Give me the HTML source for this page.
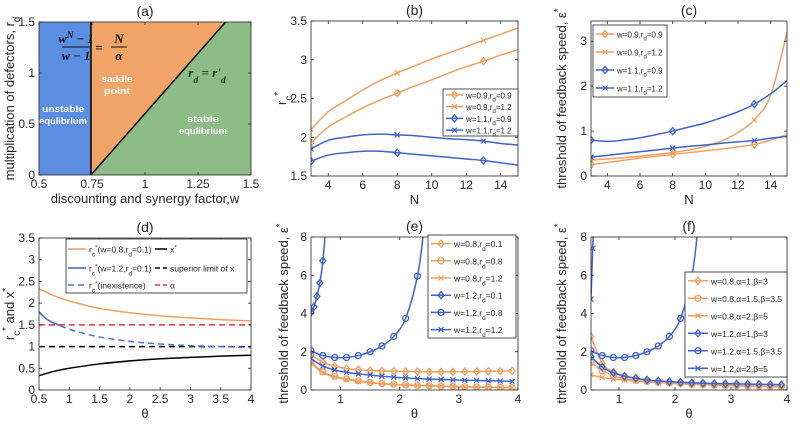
<!DOCTYPE html>
<html><head><meta charset="utf-8"><style>
body{margin:0;background:#fff}
svg text{font-family:"Liberation Sans",sans-serif;fill:#262626}
</style></head><body>
<svg id="fig" width="800" height="425" viewBox="0 0 800 425" xmlns="http://www.w3.org/2000/svg"></svg>
<script>
// ---------- data ----------
const OR='#EFA060', BL='#3F63C9';
const bN=[3,4,5,6,7,8,9,10,11,12,13,14,15];
const b1=[1.93,2.13,2.26,2.38,2.48,2.57,2.66,2.74,2.83,2.91,2.98,3.06,3.13];
const b2=[2.10,2.33,2.47,2.61,2.73,2.83,2.92,3.01,3.09,3.17,3.25,3.33,3.41];
const b3=[1.69,1.77,1.80,1.82,1.82,1.80,1.78,1.76,1.74,1.72,1.70,1.67,1.64];
const b4=[1.85,1.96,2.00,2.03,2.04,2.03,2.02,2.00,1.98,1.97,1.95,1.92,1.90];
const c1=[0.25,0.30,0.35,0.40,0.44,0.48,0.52,0.56,0.60,0.65,0.70,0.80,0.92];
const c2=[0.35,0.38,0.41,0.44,0.48,0.52,0.58,0.66,0.78,0.97,1.25,1.80,3.20];
const c3=[0.80,0.77,0.80,0.85,0.92,1.00,1.09,1.18,1.30,1.43,1.60,1.83,2.12];
const c4=[0.42,0.46,0.50,0.54,0.58,0.62,0.66,0.69,0.73,0.76,0.79,0.84,0.88];
const dT=[0.5,0.75,1,1.5,2,2.5,3,3.5,4];
const dOr=[2.33,2.17,2.05,1.88,1.78,1.71,1.66,1.62,1.59];
const dX=[0.33,0.43,0.50,0.60,0.67,0.72,0.75,0.78,0.80];
const dBT=[0.5,0.6,0.7,0.85];
const dBsolid=[1.80,1.66,1.57,1.48];
const dBdT=[0.85,1,1.25,1.5,2,2.5,3,3.5,4];
const dBdash=[1.48,1.40,1.30,1.22,1.12,1.06,1.02,1.00,0.98];
const dSup=1, dAlpha=1.5;
const gT=[0.5,0.7,0.9,1.1,1.3,1.5,1.7,1.9,2.1,2.3,2.5,2.7,2.9,3.1,3.3,3.5,3.7,3.9];
const eOd=[1.85,1.45,1.25,1.12,1.06,1.02,1.0,0.98,0.97,0.96,0.95,0.95,0.95,0.96,0.97,0.98,0.99,1.0];
const eOc=[1.45,0.95,0.72,0.58,0.48,0.40,0.34,0.30,0.27,0.24,0.22,0.20,0.19,0.17,0.16,0.15,0.14,0.13];
const eOx=[1.40,0.90,0.68,0.55,0.45,0.38,0.33,0.29,0.26,0.23,0.21,0.19,0.18,0.17,0.15,0.14,0.13,0.12];
const eBx=[1.65,1.25,1.05,0.92,0.84,0.78,0.72,0.67,0.63,0.60,0.57,0.55,0.53,0.51,0.50,0.48,0.47,0.45];
const eBdT=[0.5,0.55,0.6,0.65,0.7,0.75,0.78];
const eBd=[4.05,4.35,4.9,5.6,6.75,8.5,10];
const cirT=[0.5,0.7,0.9,1.1,1.3,1.5,1.7,1.9,2.1,2.3,2.4,2.45];
const cirV=[2.05,1.8,1.7,1.7,1.8,2.0,2.3,2.8,3.75,5.95,8.2,10];
const fOd=[2.8,1.4,0.95,0.74,0.6,0.5,0.43,0.38,0.34,0.31,0.28,0.26,0.24,0.22,0.21,0.2,0.19,0.18];
const fOc=[1.45,1.0,0.75,0.6,0.5,0.45,0.40,0.36,0.33,0.30,0.28,0.26,0.24,0.22,0.21,0.20,0.18,0.17];
const fOx=[0.8,0.65,0.58,0.52,0.47,0.43,0.39,0.36,0.33,0.30,0.28,0.26,0.24,0.22,0.21,0.20,0.19,0.18];
const fBd=[1.75,1.2,0.9,0.72,0.62,0.53,0.48,0.44,0.41,0.38,0.36,0.34,0.33,0.32,0.31,0.30,0.29,0.28];
const fBxT=[0.5,0.53,0.56];
const fBx=[4.75,7.4,10];
const aVline=0.745, aDiag=[[0.745,0],[1.38,1.5]];

// ---------- helpers ----------
const NS='http://www.w3.org/2000/svg';
const svg=document.getElementById('fig');
function el(tag,attrs,parent){const e=document.createElementNS(NS,tag);for(const k in attrs)e.setAttribute(k,attrs[k]);(parent||svg).appendChild(e);return e;}
function rich(t,s,parent){
  const parts=s.split(/(_\{[^}]*\}|\^\{[^}]*\})/);
  for(const p of parts){if(!p)continue;
    if(p[0]==='_'){const ts=el('tspan',{'baseline-shift':'sub','font-size':'0.75em'},t);ts.textContent=p.slice(2,-1);}
    else if(p[0]==='^'){const ts=el('tspan',{'baseline-shift':'super','font-size':'0.75em'},t);ts.textContent=p.slice(2,-1);}
    else{const ts=el('tspan',{},t);ts.textContent=p;}}
}
function smooth(pts){let d='M'+pts[0][0]+','+pts[0][1];
  for(let i=0;i<pts.length-1;i++){const p0=pts[i-1]||pts[i],p1=pts[i],p2=pts[i+1],p3=pts[i+2]||p2;
    const c1=[p1[0]+(p2[0]-p0[0])/6,p1[1]+(p2[1]-p0[1])/6],c2=[p2[0]-(p3[0]-p1[0])/6,p2[1]-(p3[1]-p1[1])/6];
    d+=` C${c1[0]},${c1[1]} ${c2[0]},${c2[1]} ${p2[0]},${p2[1]}`;}return d;}
function marker(g,type,x,y,col){
  if(type==='d')el('path',{d:`M${x},${y-3.5}L${x+3},${y}L${x},${y+3.5}L${x-3},${y}Z`,fill:'none',stroke:col,'stroke-width':1.3},g);
  else if(type==='o')el('circle',{cx:x,cy:y,r:3,fill:'none',stroke:col,'stroke-width':1.3},g);
  else if(type==='x')el('path',{d:`M${x-2.5},${y-2.5}L${x+2.5},${y+2.5}M${x-2.5},${y+2.5}L${x+2.5},${y-2.5}`,stroke:col,'stroke-width':1.2},g);
}
let clipId=0;
function panel(o){
  const g=el('g',{});
  
  
  o.sx=v=>o.x0+(v-o.xmin)/(o.xmax-o.xmin)*(o.x1-o.x0);
  o.sy=v=>o.y1-(v-o.ymin)/(o.ymax-o.ymin)*(o.y1-o.y0);
  const id='c'+(clipId++);
  const cp=el('clipPath',{id:id},g);el('rect',{x:o.x0,y:o.y0,width:o.x1-o.x0,height:o.y1-o.y0},cp);
  o.bg=el('g',{},g);
  o.plot=el('g',{'clip-path':`url(#${id})`},g);
  o.g=g;return o;
}
function finishAxes(o){
  const g=o.g;
  const ax=el('g',{},g);
  
  
  el('rect',{x:o.x0,y:o.y0,width:o.x1-o.x0,height:o.y1-o.y0,fill:'none',stroke:'#262626','stroke-width':0.8},ax);
  o.xticks.forEach((v,i)=>{const x=o.sx(v);
    el('line',{x1:x,x2:x,y1:o.y1,y2:o.y1-3,stroke:'#262626','stroke-width':0.8},ax);
    el('line',{x1:x,x2:x,y1:o.y0,y2:o.y0+3,stroke:'#262626','stroke-width':0.8},ax);
    const t=el('text',{x:x,y:o.y1+13,'text-anchor':'middle','font-size':12},ax);t.textContent=o.xlab[i];
    });
  o.yticks.forEach((v,i)=>{const y=o.sy(v);
    el('line',{x1:o.x0,x2:o.x0+3,y1:y,y2:y,stroke:'#262626','stroke-width':0.8},ax);
    el('line',{x1:o.x1,x2:o.x1-3,y1:y,y2:y,stroke:'#262626','stroke-width':0.8},ax);
    const t=el('text',{x:o.x0-4,y:y+4,'text-anchor':'end','font-size':12},ax);t.textContent=o.ylab[i];
    });
  const tt=el('text',{x:(o.x0+o.x1)/2,y:o.y0-6,'text-anchor':'middle','font-size':14},g);tt.textContent=o.title;
  
  const xt=el('text',{x:(o.x0+o.x1)/2,y:o.y1+28,'text-anchor':'middle','font-size':13},g);rich(xt,o.xtitle);
  
  const cy=(o.y0+o.y1)/2;
  const yt=el('text',{x:o.ytx,y:cy,'text-anchor':'middle','font-size':13,transform:`rotate(-90 ${o.ytx} ${cy})`},g);rich(yt,o.ytitle);
  
}
function series(o,xs,ys,col,mk,name,dash,mkEvery){
  const g=el('g',{},o.plot);
  
  
  const pts=xs.map((x,i)=>[o.sx(x),o.sy(ys[i])]);
  const a={d:smooth(pts),fill:'none',stroke:col,'stroke-width':1.5};if(dash)a['stroke-dasharray']=dash;
  el('path',a,g);
  if(mk)pts.forEach((p,i)=>{if(!mkEvery||mkEvery.includes(xs[i]))marker(g,mk,p[0],p[1],col);});
}
function legend(x,y,w,h,items,rowH,fs){
  const g=el('g',{});
  
  
  el('rect',{x:x,y:y,width:w,height:h,fill:'#fff',stroke:'#262626','stroke-width':0.8},g);
  items.forEach((it,i)=>{
    const e=el('g',{},g);
    
    
    const lx=x+(it.cx||3), ly=(it.cy!==undefined?it.cy:y+rowH*(i+0.5));
    const a={x1:lx,x2:lx+(it.len||20),y1:ly,y2:ly,stroke:it.c,'stroke-width':1.5};if(it.dash)a['stroke-dasharray']=it.dash;
    el('line',a,e);
    if(it.m)marker(e,it.m,lx+(it.len||20)/2,ly,it.c);
    const t=el('text',{x:lx+(it.len||20)+3,y:ly+3.5,'font-size':fs},e);rich(t,it.t);
  });
}

// ---------- panel (a) ----------
const A=panel({name:'panel-a',x0:39,x1:251,y0:22,y1:175,xmin:0.5,xmax:1.5,ymin:0,ymax:1.5,
  xticks:[0.5,0.75,1,1.25,1.5],xlab:['0.5','0.75','1','1.25','1.5'],yticks:[0,0.5,1,1.5],ylab:['0','0.5','1','1.5'],
  title:'(a)',xtitle:'discounting and synergy factor,w',ytitle:'multiplication of defectors, r_{d}',ytx:14});
{const vx=A.sx(aVline),p0=[A.sx(aDiag[0][0]),A.sy(aDiag[0][1])],p1=[A.sx(aDiag[1][0]),A.sy(aDiag[1][1])];
 const r1=el('rect',{x:A.x0,y:A.y0,width:vx-A.x0,height:A.y1-A.y0,fill:'#5B8DE0'},A.bg);
 const r2=el('path',{d:`M${vx},${A.y0}L${p1[0]},${p1[1]}L${p0[0]},${p0[1]}L${vx},${A.y1}Z`,fill:'#F2A468'},A.bg);
 const r3=el('path',{d:`M${p0[0]},${p0[1]}L${p1[0]},${p1[1]}L${A.x1},${A.y0}L${A.x1},${A.y1}Z`,fill:'#8DBC86'},A.bg);
 el('line',{x1:vx,x2:vx,y1:A.y0,y2:A.y1,stroke:'#000','stroke-width':1.5},A.plot);
 el('line',{x1:p0[0],y1:p0[1],x2:p1[0],y2:p1[1],stroke:'#000','stroke-width':1.5},A.plot);
 const lab=(x,y,s,w)=>{const t=el('text',{x:x,y:y,'text-anchor':'middle','font-size':9.5,'font-weight':'bold',style:'fill:#fff',textLength:w,lengthAdjust:'spacingAndGlyphs'},A.g);t.textContent=s;};
 lab(63,112,'unstable',42);lab(63,124,'equlibrium',48);lab(117,82,'saddle',31);lab(117,94,'point',26);lab(203,122,'stable',32);lab(203,134,'equlibrium',48);
 const sf='font-family:"Liberation Serif",serif;font-style:italic;font-weight:bold;fill:#111';
 let t=el('text',{x:76,y:43,'text-anchor':'middle','font-size':12.5,style:sf},A.g);rich(t,'w^{N} − 1');
 el('line',{x1:62,x2:91,y1:47,y2:47,stroke:'#111','stroke-width':1},A.g);
 t=el('text',{x:76,y:60,'text-anchor':'middle','font-size':12.5,style:sf},A.g);t.textContent='w − 1';
 t=el('text',{x:99,y:52,'text-anchor':'middle','font-size':13,style:sf},A.g);t.textContent='=';
 t=el('text',{x:119,y:43,'text-anchor':'middle','font-size':13,style:sf},A.g);t.textContent='N';
 el('line',{x1:111,x2:127,y1:47,y2:47,stroke:'#111','stroke-width':1},A.g);
 t=el('text',{x:119,y:60,'text-anchor':'middle','font-size':13,style:sf},A.g);t.textContent='α';
 t=el('text',{x:207,y:77,'text-anchor':'middle','font-size':13,style:sf.replace('#111','#0d3d12')},A.g);rich(t,"r_{d} = r'_{d}");
}
finishAxes(A);

// ---------- panel (b) ----------
const B=panel({name:'panel-b',x0:311,x1:518,y0:21,y1:176,xmin:3,xmax:15,ymin:1.5,ymax:3.5,
  xticks:[4,6,8,10,12,14],xlab:['4','6','8','10','12','14'],yticks:[1.5,2,2.5,3,3.5],ylab:['1.5','2','2.5','3','3.5'],
  title:'(b)',xtitle:'N',ytitle:'r_{c}^{*}',ytx:286});
series(B,bN,b1,OR,'d','series-w09-rd09',null,[3,8,13]);
series(B,bN,b2,OR,'x','series-w09-rd12',null,[3,8,13]);
series(B,bN,b3,BL,'d','series-w11-rd09',null,[3,8,13]);
series(B,bN,b4,BL,'x','series-w11-rd12',null,[3,8,13]);
finishAxes(B);
legend(443,89,75,47,[{t:'w=0.9,r_{d}=0.9',c:OR,m:'d',len:17},{t:'w=0.9,r_{d}=1.2',c:OR,m:'x',len:17},{t:'w=1.1,r_{d}=0.9',c:BL,m:'d',len:17},{t:'w=1.1,r_{d}=1.2',c:BL,m:'x',len:17}],11.75,8);

// ---------- panel (c) ----------
const C=panel({name:'panel-c',x0:591,x1:787,y0:21,y1:176,xmin:3,xmax:15,ymin:0,ymax:3.45,
  xticks:[4,6,8,10,12,14],xlab:['4','6','8','10','12','14'],yticks:[0,1,2,3],ylab:['0','1','2','3'],
  title:'(c)',xtitle:'N',ytitle:'threshold of feedback speed, ε^{*}',ytx:566});
series(C,bN,c1,OR,'d','series-w09-rd09',null,[3,8,13]);
series(C,bN,c2,OR,'x','series-w09-rd12',null,[3,8,13]);
series(C,bN,c3,BL,'d','series-w11-rd09',null,[3,8,13]);
series(C,bN,c4,BL,'x','series-w11-rd12',null,[3,8,13]);
finishAxes(C);
legend(593,25,74,72,[{t:'w=0.9,r_{d}=0.9',c:OR,m:'d',len:18},{t:'w=0.9,r_{d}=1.2',c:OR,m:'x',len:18},{t:'w=1.1,r_{d}=0.9',c:BL,m:'d',len:18},{t:'w=1.1,r_{d}=1.2',c:BL,m:'x',len:18}],18,8);

// ---------- panel (d) ----------
const D=panel({name:'panel-d',x0:39,x1:251,y0:238,y1:390,xmin:0.5,xmax:4,ymin:0,ymax:3.5,
  xticks:[0.5,1,1.5,2,2.5,3,3.5,4],xlab:['0.5','1','1.5','2','2.5','3','3.5','4'],
  yticks:[0,0.5,1,1.5,2,2.5,3,3.5],ylab:['0','0.5','1','1.5','2','2.5','3','3.5'],
  title:'(d)',xtitle:'θ',ytitle:'r_{c}^{*} and x^{*}',ytx:14});
series(D,[0.5,4],[dSup,dSup],'#000',null,'superior-limit-line','6,4');
series(D,[0.5,4],[dAlpha,dAlpha],'#E8303A',null,'alpha-line','6,4');
series(D,dT,dOr,OR,null,'rc-w08');
series(D,dBT,dBsolid,BL,null,'rc-w12');
series(D,dBdT,dBdash,'#4A72D0',null,'rc-inexistence','6,4');
series(D,dT,dX,'#000',null,'x-star');
finishAxes(D);
legend(66,239,181,54,[
 {t:'r_{c}^{*}(w=0.8,r_{d}=0.1)',c:OR,cx:2,cy:249,len:18},
 {t:'r_{c}^{*}(w=1.2,r_{d}=0.1)',c:BL,cx:2,cy:268,len:18},
 {t:'r_{c}^{*}(inexistence)',c:'#4A72D0',dash:'6,4',cx:2,cy:285,len:18},
 {t:'x^{*}',c:'#000',cx:89,cy:249,len:12},
 {t:'superior limit of x',c:'#000',dash:'5,3',cx:89,cy:268,len:12},
 {t:'α',c:'#E8303A',dash:'5,3',cx:89,cy:285,len:12}],18,8.5);

// ---------- panel (e) ----------
const E=panel({name:'panel-e',x0:311,x1:518,y0:237,y1:390,xmin:0.5,xmax:4,ymin:0,ymax:8,
  xticks:[1,2,3,4],xlab:['1','2','3','4'],yticks:[0,2,4,6,8],ylab:['0','2','4','6','8'],
  title:'(e)',xtitle:'θ',ytitle:'threshold of feedback speed, ε^{*}',ytx:288});
series(E,gT,eOd,OR,'d','series-w08-rd01');
series(E,gT,eOc,OR,'o','series-w08-rd08');
series(E,gT,eOx,OR,'x','series-w08-rd12');
series(E,eBdT,eBd,BL,'d','series-w12-rd01');
series(E,cirT,cirV,BL,'o','series-w12-rd08');
series(E,gT,eBx,BL,'x','series-w12-rd12');
finishAxes(E);
legend(428,235,88,103,[{t:'w=0.8,r_{d}=0.1',c:OR,m:'d'},{t:'w=0.8,r_{d}=0.8',c:OR,m:'o'},{t:'w=0.8,r_{d}=1.2',c:OR,m:'x'},
 {t:'w=1.2,r_{d}=0.1',c:BL,m:'d'},{t:'w=1.2,r_{d}=0.8',c:BL,m:'o'},{t:'w=1.2,r_{d}=1.2',c:BL,m:'x'}],17.2,8.5);

// ---------- panel (f) ----------
const F=panel({name:'panel-f',x0:591,x1:787,y0:237,y1:390,xmin:0.5,xmax:4,ymin:0,ymax:8,
  xticks:[1,2,3,4],xlab:['1','2','3','4'],yticks:[0,2,4,6,8],ylab:['0','2','4','6','8'],
  title:'(f)',xtitle:'θ',ytitle:'threshold of feedback speed, ε^{*}',ytx:566});
series(F,gT,fOd,OR,'d','series-w08-a1-b3');
series(F,gT,fOc,OR,'o','series-w08-a15-b35');
series(F,gT,fOx,OR,'x','series-w08-a2-b5');
series(F,gT,fBd,BL,'d','series-w12-a1-b3');
series(F,cirT,cirV,BL,'o','series-w12-a15-b35');
series(F,fBxT,fBx,BL,'x','series-w12-a2-b5');
finishAxes(F);
legend(685,272,102,105,[{t:'w=0.8,α=1,β=3',c:OR,m:'d'},{t:'w=0.8,α=1.5,β=3.5',c:OR,m:'o'},{t:'w=0.8,α=2,β=5',c:OR,m:'x'},
 {t:'w=1.2,α=1,β=3',c:BL,m:'d'},{t:'w=1.2,α=1.5,β=3.5',c:BL,m:'o'},{t:'w=1.2,α=2,β=5',c:BL,m:'x'}],17.5,8.5);
</script>
</body></html>
